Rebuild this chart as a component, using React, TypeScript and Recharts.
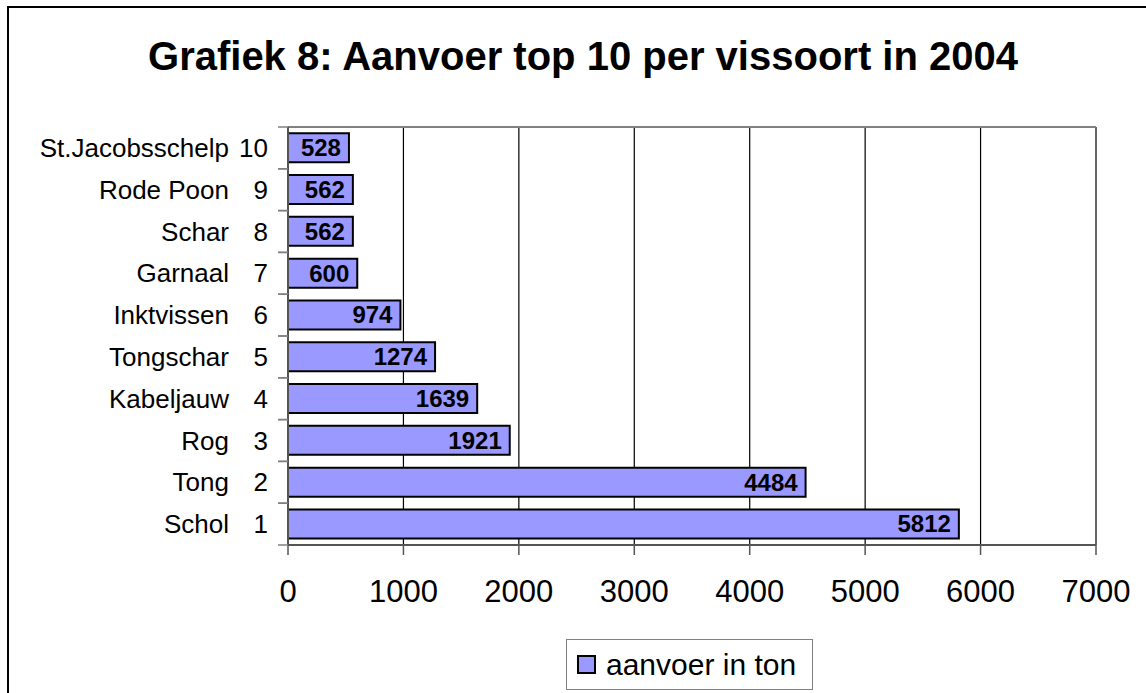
import { BarChart, Bar, XAxis, YAxis, CartesianGrid, Legend, LabelList } from "recharts";

const NAMES = [
  "Schol",
  "Tong",
  "Rog",
  "Kabeljauw",
  "Tongschar",
  "Inktvissen",
  "Garnaal",
  "Schar",
  "Rode Poon",
  "St.Jacobsschelp",
];
const RANKS = [1, 2, 3, 4, 5, 6, 7, 8, 9, 10];
const AANVOER = [5812, 4484, 1921, 1639, 1274, 974, 600, 562, 562, 528];
const X_TICKS = [0, 1000, 2000, 3000, 4000, 5000, 6000, 7000];

const TITLE = "Grafiek 8: Aanvoer top 10 per vissoort in 2004";
const SERIES_NAME = "aanvoer in ton";

const FONT = '"Liberation Sans", Arial, sans-serif';
const BAR_FILL = "#9999FF";
const AXIS_GREY = "#808080";

// plot box in page pixels (chart sits at 0,0 of the page)
const W = 1146;
const H = 693;
const PLOT_LEFT = 288;
const PLOT_RIGHT = 1096;
const PLOT_TOP = 127;
const PLOT_BOTTOM = 545;

const data = NAMES.map((name, i) => ({ name, rank: RANKS[i], value: AANVOER[i] }));

function CategoryTick(props: any) {
  const { y, payload } = props;
  const i = NAMES.indexOf(payload.value);
  const band = (PLOT_BOTTOM - PLOT_TOP) / NAMES.length;
  return (
    <g>
      <line x1={PLOT_LEFT - 10} x2={PLOT_LEFT} y1={y - band / 2} y2={y - band / 2} stroke={AXIS_GREY} strokeWidth={1.5} />
      <line x1={PLOT_LEFT - 10} x2={PLOT_LEFT} y1={y + band / 2} y2={y + band / 2} stroke={AXIS_GREY} strokeWidth={1.5} />
      <text x={PLOT_LEFT - 59} y={y} dy="0.35em" textAnchor="end" fontSize={26} fontFamily={FONT} fill="#000">
        {payload.value}
      </text>
      <text x={PLOT_LEFT - 20} y={y} dy="0.35em" textAnchor="end" fontSize={26} fontFamily={FONT} fill="#000">
        {RANKS[i]}
      </text>
    </g>
  );
}

function LegendBox() {
  return (
    <div
      style={{
        boxSizing: "border-box",
        width: 247,
        height: 51,
        border: `1px solid ${AXIS_GREY}`,
        display: "flex",
        alignItems: "center",
        paddingLeft: 10,
        fontFamily: FONT,
        fontSize: 30,
        color: "#000",
        background: "#fff",
      }}
    >
      <span
        style={{
          display: "inline-block",
          boxSizing: "border-box",
          width: 19,
          height: 19,
          background: BAR_FILL,
          border: "2px solid #000",
          marginRight: 10,
        }}
      />
      <span>{SERIES_NAME}</span>
    </div>
  );
}

export default function App() {
  return (
    <div style={{ position: "absolute", left: 0, top: 0, width: W, height: H, overflow: "hidden", background: "#fff" }}>
      {/* outer chart border, only left and top edges are inside the frame */}
      <div
        style={{
          position: "absolute",
          left: 7,
          top: 6,
          width: W + 20,
          height: H + 20,
          borderLeft: "2px solid #000",
          borderTop: "2px solid #000",
        }}
      />
      <div style={{ position: "absolute", left: 0, top: 0 }}>
        <BarChart
          width={W}
          height={H}
          data={data}
          layout="vertical"
          barCategoryGap="15%"
          margin={{ top: PLOT_TOP, right: W - PLOT_RIGHT, bottom: H - PLOT_BOTTOM - 100, left: 0 }}
        >
          <text
            x={583}
            y={70}
            textAnchor="middle"
            fontSize={40}
            fontWeight="bold"
            fontFamily={FONT}
            fill="#000"
          >
            {TITLE}
          </text>
          <CartesianGrid horizontal={false} stroke="#000" strokeWidth={1.2} />
          <CartesianGrid
            vertical={false}
            stroke={AXIS_GREY}
            strokeWidth={2}
            horizontalCoordinatesGenerator={({ offset }: any) => [offset.top]}
          />
          <XAxis
            type="number"
            domain={[0, 7000]}
            ticks={X_TICKS}
            interval={0}
            height={100}
            tickSize={10}
            tickMargin={25}
            axisLine={{ stroke: "#555", strokeWidth: 2 }}
            tickLine={{ stroke: "#555", strokeWidth: 1.5 }}
            tick={{ fontSize: 31, fontFamily: FONT, fill: "#000" }}
          />
          <YAxis
            type="category"
            dataKey="name"
            reversed
            width={PLOT_LEFT}
            interval={0}
            tickLine={false}
            axisLine={{ stroke: "#555", strokeWidth: 2 }}
            tick={<CategoryTick />}
          />
          <Legend
            layout="horizontal"
            verticalAlign="middle"
            align="center"
            wrapperStyle={{ left: 566, top: 639, width: 247, height: 51 }}
            content={() => <LegendBox />}
          />
          <Bar dataKey="value" name={SERIES_NAME} fill={BAR_FILL} stroke="#000" strokeWidth={2} isAnimationActive={false}>
            <LabelList
              dataKey="value"
              position="insideRight"
              offset={8}
              fontSize={24}
              fontWeight="bold"
              fontFamily={FONT}
              fill="#000"
            />
          </Bar>
        </BarChart>
      </div>
    </div>
  );
}
